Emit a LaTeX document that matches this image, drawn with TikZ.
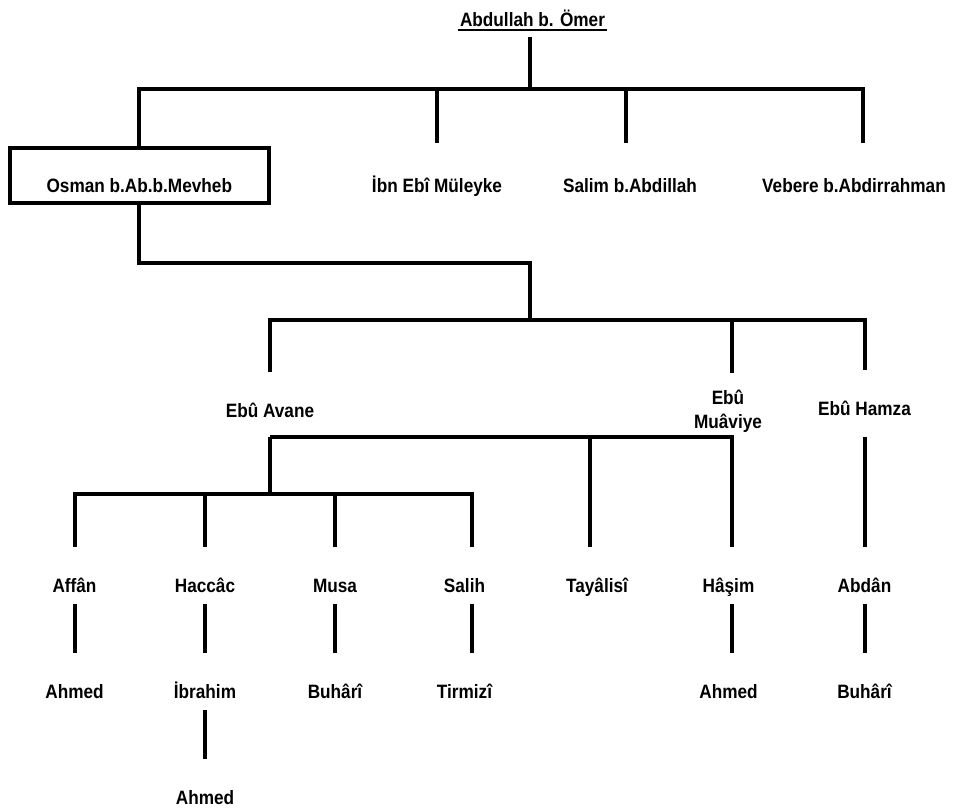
\documentclass[tikz,border=0pt]{standalone}
\usepackage{fontspec}
\setmainfont{Liberation Sans}[FakeStretch=0.89]
\usetikzlibrary{positioning,calc}

\begin{document}
\begin{tikzpicture}[x=0.75pt, y=-0.75pt, line width=3pt,
    ravibase/.style={font=\bfseries\fontsize{14.5pt}{18pt}\selectfont, inner sep=0pt},
    ravi/.style={ravibase, anchor=base, text height=32.25pt, text depth=7.5pt},
    firstrow/.style={ravi, text height=35.25pt}]
    \useasboundingbox (0,0) rectangle (957,811);

    \node[ravibase, anchor=base, text depth=6.4pt] (omer) at (532.5,26.5) {Abdullah b. Ömer};
    \draw[line width=1.3pt] ([yshift=-2.6pt]omer.base west) -- ([yshift=-2.6pt]omer.base east);

    \node[ravi, draw, text height=33pt, text depth=7.9pt, minimum width=194.6pt] (osman) at (139.3,192) {Osman b.Ab.b.Mevheb};
    \node[firstrow] (ibn) at (437,192) {İbn Ebî Müleyke};
    \node[firstrow] (salim) at (630,192) {Salim b.Abdillah};
    \node[firstrow] (vebere) at (854,192) {Vebere b.Abdirrahman};

    \node[ravi] (avane) at (270,417) {Ebû Avane};
    \node[ravibase, align=center, inner ysep=11.25pt] (muaviye) at (728,411) {Ebû\\Muâviye};
    \node[ravi, text depth=15pt] (hamza) at (864.5,415) {Ebû Hamza};

    \node[ravi] (affan) at (74.5,592) {Affân};
    \node[ravi] (haccac) at (205,592) {Haccâc};
    \node[ravi] (musa) at (335,592) {Musa};
    \node[ravi] (salih) at (464.5,592) {Salih};
    \node[ravi] (tayalisi) at (597,592) {Tayâlisî};
    \node[ravi] (hasim) at (728.5,592) {Hâşim};
    \node[ravi] (abdan) at (864.5,592) {Abdân};

    \node[ravi] (ahmeda) at (74.5,698) {Ahmed};
    \node[ravi] (ibrahim) at (205,698) {İbrahim};
    \node[ravi] (buharia) at (335,698) {Buhârî};
    \node[ravi] (tirmizi) at (464.5,698) {Tirmizî};
    \node[ravi] (ahmedb) at (728.5,698) {Ahmed};
    \node[ravi] (buharib) at (864.5,698) {Buhârî};
    \node[ravi] (ahmedc) at (205,804) {Ahmed};

    \coordinate (j1) at (530,89);
    \coordinate (j2) at (530,263);
    \coordinate (j3) at (530,320);
    \coordinate (j4) at ($(avane.base)+(0,20)$);
    \coordinate (j5) at ($(avane.base)+(0,77)$);

    \draw (omer.south -| j1) -- (j1);
    \foreach \n in {osman, ibn}
        \draw (\n.north) |- (j1);
    \draw ([xshift=-3pt]salim.north) |- (j1);
    \draw ([xshift=6.75pt]vebere.north) |- (j1);

    \draw (osman.south) |- (j2) -- (j3);
    \foreach \n in {avane, hamza}
        \draw (\n.north) |- (j3);
    \draw ([xshift=3pt]muaviye.north) |- (j3);

    \draw (j4) -- (j5);
    \draw ([xshift=-5.25pt]tayalisi.north) |- (j4);
    \draw ([xshift=2.6pt]hasim.north) |- (j4);
    \foreach \n in {affan, haccac, musa}
        \draw (\n.north) |- (j5);
    \draw ([xshift=5.6pt]salih.north) |- (j5);
    \draw (hamza.south) -- (abdan.north);

    \foreach \a/\b in {affan/ahmeda, haccac/ibrahim, musa/buharia, abdan/buharib, ibrahim/ahmedc}
        \draw (\a.south) -- (\b.north);
    \draw ([xshift=5.6pt]salih.south) -- ([xshift=5.6pt]tirmizi.north);
    \draw ([xshift=2.6pt]hasim.south) -- ([xshift=2.6pt]ahmedb.north);
\end{tikzpicture}
\end{document}
